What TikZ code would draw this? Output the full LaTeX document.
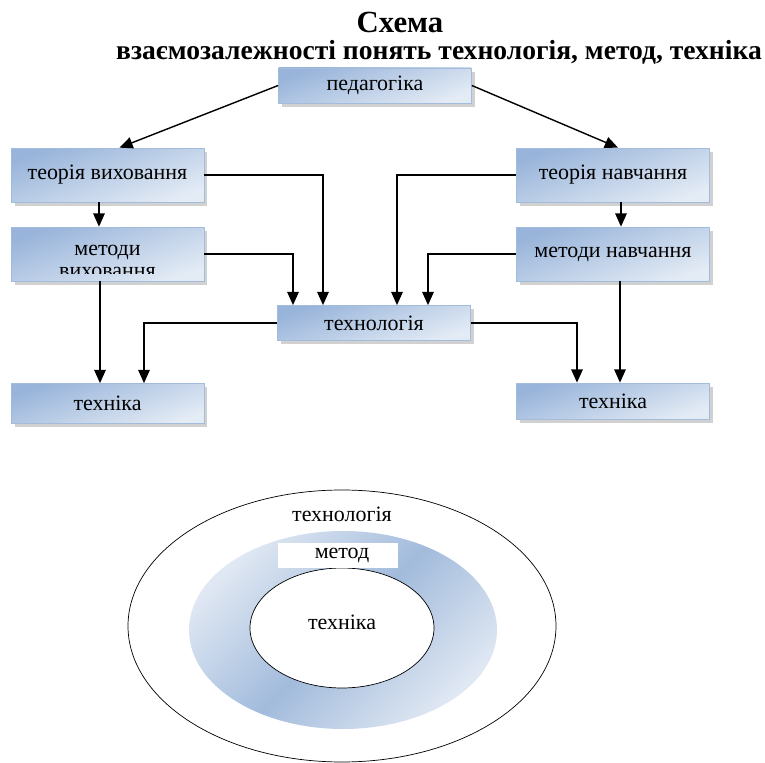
\documentclass[tikz,border=0pt]{standalone}
\usepackage{fontspec}
\setmainfont{Liberation Serif}
\usetikzlibrary{arrows.meta,calc,shadows}
\definecolor{boxtop}{HTML}{98B4DA}
\definecolor{boxbot}{HTML}{E3EBF5}
\definecolor{boxline}{HTML}{A4BCDC}
\definecolor{ringdark}{HTML}{A2BBDC}
\definecolor{ringlight}{HTML}{E0E8F3}

\begin{document}
\begin{tikzpicture}[x=0.02cm,y=-0.02cm,
  box/.style={rectangle,draw=boxline,thin,top color=boxtop,bottom color=boxbot,shading angle=20,
    minimum width=3.86cm,inner sep=1pt,font=\fontsize{12.5}{14}\selectfont,
    drop shadow={shadow xshift=2pt,shadow yshift=-2pt,fill=black!30,opacity=.6}},
  lbl/.style={inner sep=0pt,font=\fontsize{12.5}{12.5}\selectfont,align=center},
  arr/.style={-{Triangle[length=7.5pt,width=6.5pt]},thick}]
\useasboundingbox (0,0) rectangle (765,763);
% title
\node [font=\bfseries\fontsize{17.5}{19}\selectfont] (title) at (400,22) {Схема};
\node [font=\bfseries\fontsize{15.7}{17}\selectfont] (subtitle) at (439,52) {взаємозалежності понять технологія, метод, техніка};
% boxes
\node [box,minimum height=0.7cm] (ped) at (375,85.5) {педагогіка};
\node [box,minimum height=1.08cm] (tv) at (107.5,175) {теорія виховання};
\node [box,minimum height=1.08cm] (mv) at (107.5,254) {};
\begin{scope}
\clip ($(mv.south west)+(0,-8)$) rectangle (mv.north east);
\node [lbl] (mvt) at (107.5,261) {методи\\виховання};
\end{scope}
\node [box,minimum height=1.08cm] (tn) at (613,175) {теорія навчання};
\node [box,minimum height=1.08cm] (mn) at (613,254) {методи навчання};
\node [box,minimum height=0.7cm] (tech) at (374,323) {технологія};
\node [box,minimum height=0.8cm] (tl) at (107.5,403.5) {техніка};
\node [box,minimum height=0.72cm] (tr) at (613,401) {техніка};
% connectors
\draw [arr] (ped.west) -- ($(tv.north)+(12,0)$);
\draw [arr] (ped.east) -- ($(tn.north)+(5,0)$);
\draw [arr] ($(tv.south)+(-8.5,0)$) -- ($(mv.north)+(-8.5,0)$);
\draw [arr] ($(tn.south)+(8,0)$) -- ($(mn.north)+(8,0)$);
\draw [arr] (tv.east) -| ($(tech.north)+(-51,0)$);
\draw [arr] (mv.east) -| ($(tech.north)+(-81,0)$);
\draw [arr] (tn.west) -| ($(tech.north)+(23,0)$);
\draw [arr] (mn.west) -| ($(tech.north)+(54,0)$);
\draw [arr] ($(mv.south)+(-7.5,0)$) -- ($(tl.north)+(-7.5,0)$);
\draw [arr] ($(mn.south)+(7,0)$) -- ($(tr.north)+(7,0)$);
\draw [arr] (tech.west) -| ($(tl.north)+(36.5,0)$);
\draw [arr] (tech.east) -| ($(tr.north)+(-36,0)$);
% nested ellipses
\draw [thin,fill=white] (342,626) ellipse [x radius=214,y radius=136];
\shade [top color=ringlight,bottom color=ringlight,middle color=ringdark,shading angle=45] (343,630) ellipse [x radius=154,y radius=99];
\draw [thin,fill=white] (342,628) ellipse [x radius=92,y radius=60];
\fill [white] (278,543) rectangle (398,568);
\node [lbl] (otech) at (342,514) {технологія};
\node [lbl] (ometh) at (342,555) {метод};
\node [lbl] (otechn) at (342,622) {техніка};
\end{tikzpicture}
\end{document}
